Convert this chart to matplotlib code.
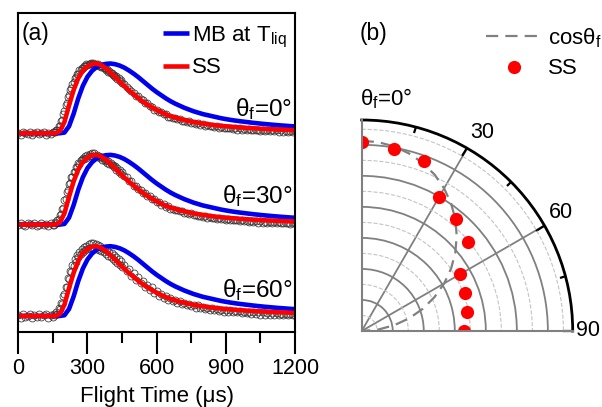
import numpy as np
import matplotlib
matplotlib.use('Agg')
import matplotlib.pyplot as plt
from matplotlib.ticker import FixedLocator, MultipleLocator

plt.rcParams['font.family'] = ['Liberation Sans', 'DejaVu Sans']
plt.rcParams['mathtext.fontset'] = 'custom'
plt.rcParams['mathtext.rm'] = 'Liberation Sans'
plt.rcParams['mathtext.it'] = 'Liberation Sans:italic'
plt.rcParams['mathtext.bf'] = 'Liberation Sans:bold'

# ---- (a) time-of-flight traces, normalised ----
t_fit = np.arange(0, 1201, 20)
ss_fit = [0, 0, 0, 0, 0, 0, 0, 0, 0,
          0.03, 0.16, 0.40, 0.62, 0.79, 0.90, 0.96, 0.995, 1.0, 0.975,
          0.93, 0.87, 0.805, 0.74, 0.675, 0.615, 0.56, 0.505, 0.455, 0.41,
          0.37, 0.335, 0.30, 0.27, 0.245, 0.225, 0.205, 0.19, 0.175, 0.16,
          0.15, 0.14, 0.13, 0.12, 0.113, 0.106, 0.10, 0.094, 0.089, 0.084,
          0.079, 0.075, 0.071, 0.067, 0.063, 0.06, 0.057, 0.054, 0.051, 0.049,
          0.046, 0.044]
mb_fit = [0, 0, 0, 0, 0, 0, 0, 0, 0, 0,
          0.01, 0.10, 0.28, 0.50, 0.68, 0.81, 0.895, 0.95, 0.98, 0.995,
          1.0, 0.99, 0.97, 0.94, 0.90, 0.855, 0.805, 0.75, 0.695, 0.64,
          0.59, 0.545, 0.50, 0.46, 0.425, 0.395, 0.365, 0.34, 0.315, 0.295,
          0.275, 0.26, 0.245, 0.23, 0.215, 0.203, 0.192, 0.182, 0.173, 0.165,
          0.157, 0.149, 0.142, 0.135, 0.129, 0.123, 0.117, 0.112, 0.107, 0.102,
          0.098]

# measured points: 10 us steps, 5 us steps across the peak
t_data = np.concatenate([np.arange(0, 151, 10), np.arange(155, 451, 5), np.arange(460, 1201, 10)])
data_0 = [0.01, -0.02, 0.02, 0.00, -0.01, 0.02, -0.02, 0.01, 0.02, -0.01,
          0.00, 0.02, -0.02, 0.01, -0.01, 0.02,
          0.02, 0.02, 0.05, 0.05, 0.10, 0.11, 0.17, 0.19, 0.27, 0.32,
          0.40, 0.44, 0.52, 0.55, 0.62, 0.65, 0.71, 0.73, 0.79, 0.80,
          0.85, 0.85, 0.90, 0.90, 0.94, 0.93, 0.97, 0.96, 0.99, 0.98,
          1.00, 0.99, 1.01, 0.99, 1.01, 0.99, 1.00, 0.98, 0.99, 0.97,
          0.97, 0.95, 0.96, 0.93, 0.94, 0.91, 0.92, 0.88, 0.89, 0.86,
          0.87, 0.84, 0.84, 0.81, 0.82, 0.78, 0.79, 0.75, 0.76, 0.72,
          0.71, 0.66, 0.64, 0.60, 0.58, 0.54, 0.53, 0.49, 0.48, 0.44,
          0.43, 0.39, 0.38, 0.34, 0.34, 0.30, 0.30, 0.27, 0.27, 0.24,
          0.24, 0.22, 0.22, 0.20, 0.20, 0.18, 0.18, 0.16, 0.17, 0.15,
          0.15, 0.13, 0.14, 0.12, 0.13, 0.11, 0.12, 0.10, 0.11, 0.09,
          0.10, 0.08, 0.09, 0.07, 0.08, 0.07, 0.08, 0.06, 0.07, 0.05,
          0.07, 0.05, 0.06, 0.05, 0.06, 0.04, 0.05, 0.04, 0.05, 0.03,
          0.05, 0.03, 0.04, 0.03, 0.04, 0.03, 0.04, 0.02, 0.04, 0.02,
          0.03, 0.02, 0.03, 0.02, 0.03]
data_30 = [-0.01, 0.02, 0.00, -0.02, 0.02, 0.01, -0.01, 0.02, -0.02, 0.00,
           0.02, -0.01, 0.01, -0.02, 0.02, 0.00,
           0.00, 0.04, 0.03, 0.07, 0.08, 0.14, 0.15, 0.22, 0.24, 0.35,
           0.37, 0.47, 0.49, 0.58, 0.59, 0.68, 0.68, 0.76, 0.76, 0.83,
           0.82, 0.88, 0.87, 0.93, 0.92, 0.96, 0.94, 0.98, 0.96, 1.00,
           0.98, 1.01, 0.99, 1.02, 0.99, 1.02, 0.98, 1.00, 0.97, 0.99,
           0.95, 0.97, 0.93, 0.95, 0.91, 0.93, 0.89, 0.91, 0.87, 0.89,
           0.85, 0.86, 0.82, 0.84, 0.79, 0.81, 0.76, 0.78, 0.73, 0.75,
           0.69, 0.68, 0.62, 0.62, 0.56, 0.56, 0.51, 0.50, 0.46, 0.46,
           0.41, 0.41, 0.36, 0.36, 0.32, 0.32, 0.28, 0.29, 0.25, 0.26,
           0.23, 0.23, 0.21, 0.21, 0.19, 0.19, 0.17, 0.17, 0.15, 0.16,
           0.14, 0.14, 0.12, 0.13, 0.11, 0.12, 0.10, 0.11, 0.09, 0.10,
           0.08, 0.09, 0.08, 0.08, 0.07, 0.08, 0.06, 0.07, 0.06, 0.06,
           0.05, 0.06, 0.05, 0.05, 0.04, 0.05, 0.04, 0.05, 0.03, 0.05,
           0.03, 0.04, 0.03, 0.04, 0.02, 0.04, 0.02, 0.04, 0.02, 0.03,
           0.02, 0.03, 0.01, 0.03, 0.02]
data_60 = [0.02, -0.03, 0.03, -0.01, 0.00, 0.03, -0.03, 0.02, -0.01, 0.03,
           -0.02, 0.01, 0.03, -0.03, 0.02, -0.01,
           0.03, 0.01, 0.06, 0.03, 0.11, 0.10, 0.19, 0.17, 0.29, 0.31,
           0.42, 0.42, 0.54, 0.53, 0.64, 0.63, 0.73, 0.71, 0.81, 0.78,
           0.87, 0.84, 0.92, 0.89, 0.96, 0.92, 0.99, 0.94, 1.01, 0.96,
           1.03, 0.97, 1.04, 0.98, 1.04, 0.97, 1.03, 0.96, 1.02, 0.95,
           1.00, 0.93, 0.98, 0.91, 0.96, 0.89, 0.94, 0.86, 0.92, 0.84,
           0.90, 0.82, 0.87, 0.79, 0.85, 0.76, 0.82, 0.73, 0.79, 0.70,
           0.73, 0.64, 0.67, 0.58, 0.61, 0.52, 0.56, 0.47, 0.50, 0.42,
           0.45, 0.37, 0.41, 0.33, 0.36, 0.29, 0.32, 0.26, 0.29, 0.23,
           0.26, 0.21, 0.23, 0.19, 0.21, 0.17, 0.19, 0.15, 0.17, 0.14,
           0.16, 0.12, 0.15, 0.11, 0.13, 0.10, 0.12, 0.09, 0.11, 0.08,
           0.10, 0.07, 0.09, 0.06, 0.09, 0.06, 0.08, 0.05, 0.07, 0.05,
           0.07, 0.04, 0.06, 0.04, 0.06, 0.03, 0.05, 0.03, 0.05, 0.02,
           0.05, 0.02, 0.04, 0.02, 0.04, 0.01, 0.04, 0.01, 0.03, 0.01,
           0.03, 0.01, 0.03, 0.01, 0.02]

trace_labels = ['0', '30', '60']
trace_offsets = [2.62, 1.31, 0.0]
trace_label_y = [0.676, 0.405, 0.111]  # baseline of the theta_f text, axes fraction

# ---- (b) polar angular distribution ----
ss_theta = [0, 10, 20, 30, 40, 50, 60, 70, 80, 90]
ss_r = [6.1, 5.95, 5.84, 4.97, 4.71, 4.46, 3.67, 3.55, 3.44, 3.30]
cos_theta = [0, 5, 10, 15, 20, 25, 30, 35, 40, 45, 50, 55, 60, 65, 70, 75, 80, 85, 90]
cos_r = [6.13, 6.11, 6.04, 5.92, 5.76, 5.56, 5.31, 5.02, 4.70, 4.33,
         3.94, 3.52, 3.07, 2.59, 2.10, 1.59, 1.06, 0.53, 0.0]

fig = plt.figure(figsize=(6.02, 4.07), dpi=100)

ax = fig.add_axes([18.3 / 602, 1 - 332 / 407, (295 - 18.3) / 602, (332 - 13.3) / 407])
for data, off in zip([data_0, data_30, data_60], trace_offsets):
    ax.plot(t_data, np.array(data) + off, 'o', ms=5, mfc='none', mec='#333333', mew=0.55)
for off in trace_offsets:
    mb_line, = ax.plot(t_fit, np.array(mb_fit) + off, color='#0000ee', lw=3.3, solid_capstyle='butt')
    ss_line, = ax.plot(t_fit, np.array(ss_fit) + off, color='#ff0000', lw=3.3, solid_capstyle='butt')
for lab, yb in zip(trace_labels, trace_label_y):
    ax.text(0.99, yb, r'$\mathregular{\theta_f}$=' + lab + '°', transform=ax.transAxes,
            ha='right', va='baseline', fontsize=17.5)
ax.text(0.013, 0.937, '(a)', transform=ax.transAxes, ha='left', va='center', fontsize=16.5)

ax.set_xlim(0, 1200)
ax.set_ylim(-0.23, 4.34)
ax.set_yticks([])
ax.xaxis.set_major_locator(MultipleLocator(300))
ax.xaxis.set_minor_locator(MultipleLocator(150))
ax.tick_params(axis='x', which='major', direction='out', length=16, width=1.5, labelsize=15.5, pad=3)
ax.tick_params(axis='x', which='minor', direction='out', length=8, width=1.5)
for s in ax.spines.values():
    s.set_linewidth(1.5)
ax.set_xlabel('Flight Time (μs)', fontsize=16, labelpad=4.5)

ax.legend([mb_line, ss_line], [r'MB at T$_\mathregular{liq}$', 'SS'], loc='upper left',
          bbox_to_anchor=(0.523, 0.965), frameon=False, fontsize=16, borderpad=0,
          borderaxespad=0, handlelength=1.15, handletextpad=0.15, labelspacing=0.35)

# polar panel
ax2 = fig.add_axes([361.7 / 602, 1 - 331 / 407, 211 / 602, 211 / 407], projection='polar')
ax2.set_theta_zero_location('N')
ax2.set_theta_direction(-1)
ax2.set_thetamin(0)
ax2.set_thetamax(90)
ax2.set_rlim(0, 6.8)
ax2.set_rticks([1, 2, 3, 4, 5, 6])
ax2.set_yticklabels([])
ax2.yaxis.set_minor_locator(FixedLocator([0.5, 1.5, 2.5, 3.5, 4.5, 5.5, 6.5]))
ax2.set_xticks(np.deg2rad([30, 60, 90]))
ax2.set_xticklabels([])
ax2.xaxis.set_minor_locator(FixedLocator(np.deg2rad([15, 45, 75])))
ax2.grid(which='major', color='#808080', lw=1.3, ls='-')
ax2.yaxis.grid(True, which='minor', color='#c4c4c4', lw=0.8, ls='--')
ax2.xaxis.grid(False, which='minor')
ax2.tick_params(axis='x', which='both', bottom=False, top=True)
ax2.tick_params(axis='x', which='major', direction='in', length=7, width=1.6, color='black')
ax2.tick_params(axis='x', which='minor', direction='in', length=4.5, width=1.6, color='black')
ax2.tick_params(axis='y', which='both', length=0)
ax2.spines['polar'].set_linewidth(2)
ax2.spines['start'].set_color('#808080')
ax2.spines['end'].set_color('#808080')
ax2.spines['start'].set_linewidth(1.5)
ax2.spines['end'].set_linewidth(1.5)

cos_line, = ax2.plot(np.deg2rad(cos_theta), cos_r, color='#808080', lw=1.6, dashes=(5.5, 3.2))
ss_dots, = ax2.plot(np.deg2rad(ss_theta), ss_r, 'o', color='#ff0000', ms=9.5, mec='none')

fig.text(482 / 602, 1 - 132.5 / 407, '30', ha='center', va='center', fontsize=15.5)
fig.text(560.5 / 602, 1 - 212.5 / 407, '60', ha='center', va='center', fontsize=15.5)
fig.text(588 / 602, 1 - 331 / 407, '90', ha='center', va='center', fontsize=15.5)
fig.text(360 / 602, 1 - 105 / 407, r'$\mathregular{\theta_f}$=0°', ha='left', va='baseline', fontsize=16)
fig.text(360 / 602, 1 - 33.5 / 407, '(b)', ha='left', va='center', fontsize=16.5)

fig.legend([cos_line, ss_dots], [r'cos$\mathregular{\theta_f}$', 'SS'], loc='upper left',
           bbox_to_anchor=(486 / 602, 1 - 26 / 407), frameon=False, fontsize=16, borderpad=0,
           borderaxespad=0, handlelength=2.5, handletextpad=0.3, labelspacing=0.4)

fig.savefig('out.png', dpi=100)
